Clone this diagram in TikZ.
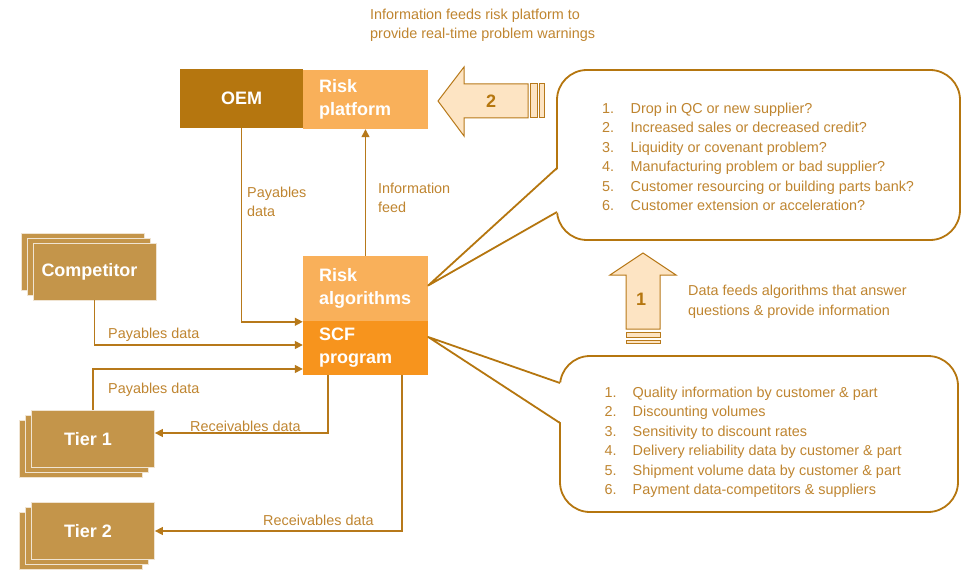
\documentclass[tikz,border=0pt]{standalone}
\usepackage{fontspec}
\setmainfont{Liberation Sans}
\usetikzlibrary{arrows.meta,shadows}
\definecolor{oemgold}{HTML}{B5760F}
\definecolor{linegold}{HTML}{B7791A}
\definecolor{txtgold}{HTML}{BF8530}
\definecolor{stackgold}{HTML}{C4954A}
\definecolor{lightorange}{HTML}{F9B05A}
\definecolor{scforange}{HTML}{F7941D}
\definecolor{palearrow}{HTML}{FDE4C3}

\begin{document}
\begin{tikzpicture}[x=1pt,y=-1pt,
		box/.style={rectangle,inner xsep=16pt,inner ysep=0pt,text width=93pt,align=left,minimum height=#1,text=white,font=\fontsize{18}{23}\selectfont\bfseries},
		stackbox/.style={rectangle,fill=stackgold,draw=white!75!stackgold,line width=0.8pt,minimum width=123pt,minimum height=57pt,text=white,font=\fontsize{18}{23}\selectfont\bfseries,execute at begin node=\hspace*{-10pt}},
		link/.style={draw=linegold,line width=1.4pt,-{Triangle[length=8pt,width=8pt]}},
		lbl/.style={text=txtgold,font=\fontsize{14.4}{19.5}\selectfont,inner sep=0pt,align=left},
		bubble/.style={rectangle,draw=oemgold,line width=1.8pt,rounded corners=30pt,fill=white},
		bline/.style={draw=oemgold,line width=1.8pt,line join=round},
		bigarrow/.style={fill=palearrow,draw=linegold,line width=1pt},
		num/.style={text=oemgold,font=\fontsize{18}{20}\selectfont\bfseries}]
	\useasboundingbox (0,0) rectangle (966,572);

	% boxes
	\node[rectangle,fill=oemgold,minimum width=123pt,minimum height=59pt,text=white,font=\fontsize{18}{23}\selectfont\bfseries] (oem) at (241.5,98.5) {OEM};
	\node[box=59pt,fill=lightorange] (rplat) at (365.5,99.5) {Risk\\platform};
	\node[box=65pt,fill=lightorange] (ralg) at (365.5,288.5) {Risk\\algorithms};
	\node[box=54pt,fill=scforange] (scf) at (365.5,348) {SCF\\program};

	\node[stackbox,double copy shadow={shadow xshift=-6pt,shadow yshift=5pt}] (comp) at (94.5,271.5) {Competitor};
	\node[stackbox,double copy shadow={shadow xshift=-6pt,shadow yshift=-5pt}] (t1) at (93,439) {Tier 1};
	\node[stackbox,double copy shadow={shadow xshift=-6pt,shadow yshift=-5pt}] (t2) at (93,531) {Tier 2};

	% data flows
	\draw[link] (oem.south) |- ([yshift=-1pt]scf.north west);
	\draw[link] (ralg.north) -- (rplat.south);
	\draw[link] (comp.south) |- ([yshift=3pt]scf.west);
	\draw[link] (t1.north) |- ([yshift=-21pt]scf.west);
	\draw[link] ([xshift=-37.5pt]scf.south) |- ([yshift=6pt]t1.east);
	\draw[link] ([xshift=36.5pt]scf.south) |- (t2.east);

	% base anchor sits on the last line
	\node[lbl,anchor=base west] (lpayoem) at (247,217) {Payables\\data};
	\node[lbl,anchor=base west] (linfo) at (378,212.5) {Information\\feed};
	\node[lbl,anchor=base west] (lpaycomp) at (108,338) {Payables data};
	\node[lbl,anchor=base west] (lpaytier) at (108,393) {Payables data};
	\node[lbl,anchor=base west] (lrec1) at (190,431) {Receivables data};
	\node[lbl,anchor=base west] (lrec2) at (263,525) {Receivables data};
	\node[lbl,anchor=base west] (lnote) at (370,39) {Information feeds risk platform to\\provide real-time problem warnings};
	\node[lbl,anchor=base west] (ldata) at (688,315) {Data feeds algorithms that answer\\questions \& provide information};

	% big arrows
	\draw[bigarrow] (438,101) -- (464,67) -- (464,84) -- (528,84) -- (528,118) -- (464,118) -- (464,136) -- cycle;
	\draw[bigarrow] (530,84) rectangle (537,118);
	\draw[bigarrow] (539.5,84) rectangle (544,118);
	\node[num] (n2) at (491,101.5) {2};
	\draw[bigarrow] (643,253) -- (676,275) -- (660,275) -- (660,329) -- (626,329) -- (626,275) -- (610,275) -- cycle;
	\draw[bigarrow] (626,332) rectangle (660,337.5);
	\draw[bigarrow] (626,340) rectangle (660,343.5);
	\node[num] (n1) at (641,299) {1};

	% questions bubble
	\node[bubble,minimum width=403pt,minimum height=170pt] (qbub) at (758.5,155) {};
	\fill[white] (559,168) -- ([yshift=3pt]ralg.east) -- (559,212) -- cycle;
	\draw[bline] (557,168) -- ([yshift=3pt]ralg.east) -- (557,212);
	\foreach \txt [count=\i] in {Drop in QC or new supplier?,Increased sales or decreased credit?,Liquidity or covenant problem?,Manufacturing problem or bad supplier?,Customer resourcing or building parts bank?,Customer extension or acceleration?}
		\node[lbl,anchor=base west] (qn\i) at (602,93.8+19.5*\i) {\i.}
		node[lbl,anchor=base west] (qt\i) at (630.5,93.8+19.5*\i) {\txt};

	% data bubble
	\node[bubble,minimum width=398pt,minimum height=156pt] (dbub) at (759,434) {};
	\fill[white] (562,383) -- ([yshift=11pt]scf.east) -- (562,423) -- cycle;
	\draw[bline] (560,383) -- ([yshift=11pt]scf.east) -- (560,423);
	\foreach \txt [count=\i] in {Quality information by customer \& part,Discounting volumes,Sensitivity to discount rates,Delivery reliability data by customer \& part,Shipment volume data by customer \& part,Payment data-competitors \& suppliers}
		\node[lbl,anchor=base west] (dn\i) at (604.5,377.8+19.5*\i) {\i.}
		node[lbl,anchor=base west] (dt\i) at (632.5,377.8+19.5*\i) {\txt};
\end{tikzpicture}
\end{document}
